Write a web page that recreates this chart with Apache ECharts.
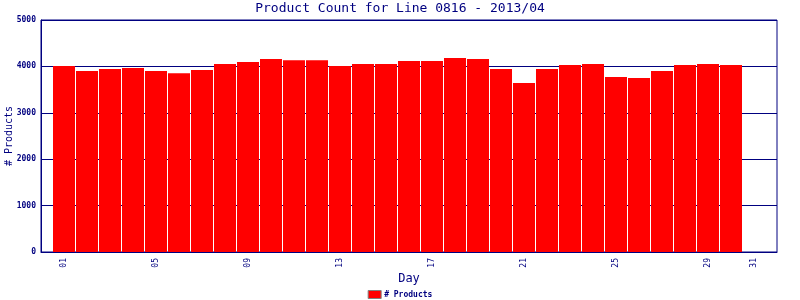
<!DOCTYPE html>
<html>
<head>
<meta charset="utf-8">
<script src="https://cdn.jsdelivr.net/npm/echarts@6/dist/echarts.min.js"></script>
<style>html,body{margin:0;padding:0;background:#fff}#c{width:800px;height:300px}</style>
</head>
<body>
<div id="c"></div>
<script>
const days = [1,2,3,4,5,6,7,8,9,10,11,12,13,14,15,16,17,18,19,20,21,22,23,24,25,26,27,28,29,30];
const products = [4010,3900,3945,3965,3900,3855,3920,4050,4095,4160,4135,4135,4010,4050,4050,4115,4115,4180,4160,3945,3640,3945,4030,4050,3770,3750,3900,4030,4050,4030];
const xTickDays = [1,5,9,13,17,21,25,29,31];
const titleText = 'Product Count for Line 0816 - 2013/04';
const seriesName = '# Products';

const navy = '#000080';
const mono = 'DejaVu Sans Mono';
const chart = echarts.init(document.getElementById('c'), null, {renderer: 'canvas'});
chart.setOption({
  animation: false,
  backgroundColor: '#fff',
  title: {
    text: titleText, left: 'center', top: 2, padding: 0,
    textStyle: {fontFamily: mono, fontSize: 13, fontWeight: 'normal', color: navy}
  },
  legend: {
    bottom: 1, left: 'center', padding: 0,
    itemWidth: 13, itemHeight: 8, itemGap: 4,
    icon: 'rect',
    textStyle: {fontFamily: mono, fontSize: 8, fontWeight: 'bold', color: navy, padding: [0,0,0,-2]},
    data: [{name: seriesName, itemStyle: {color: '#ff0000', borderColor: '#808080', borderWidth: 1}}]
  },
  grid: {left: 41, right: 23, top: 20, bottom: 48, show: true, borderColor: navy, borderWidth: 1, containLabel: false, outerBoundsMode: 'none'},
  xAxis: {
    type: 'value', min: 0, max: 32,
    name: 'Day', nameLocation: 'middle', nameGap: 21, nameMoveOverlap: false,
    nameTextStyle: {fontFamily: mono, fontSize: 12, color: navy},
    axisLine: {show: true, lineStyle: {color: navy, width: 1}},
    axisTick: {show: false},
    splitLine: {show: false},
    axisLabel: {
      customValues: xTickDays, rotate: 90, margin: 6,
      fontFamily: mono, fontSize: 8, color: navy,
      formatter: v => String(v).padStart(2, '0')
    }
  },
  yAxis: {
    type: 'value', min: 0, max: 5000, interval: 1000,
    name: '# Products', nameLocation: 'middle', nameGap: 27, nameRotate: 90, nameMoveOverlap: false,
    nameTextStyle: {fontFamily: mono, fontSize: 10, color: navy},
    axisLine: {show: true, lineStyle: {color: navy, width: 1}},
    axisTick: {show: false},
    splitLine: {show: true, lineStyle: {color: navy, width: 1}},
    axisLabel: {fontFamily: mono, fontSize: 8, fontWeight: 'bold', color: navy, margin: 5, formatter: v => String(v)}
  },
  series: [{
    name: seriesName, type: 'bar', barWidth: 22,
    itemStyle: {color: '#ff0000'},
    data: days.map((d, i) => [d, products[i]])
  }]
});
</script>
</body>
</html>
